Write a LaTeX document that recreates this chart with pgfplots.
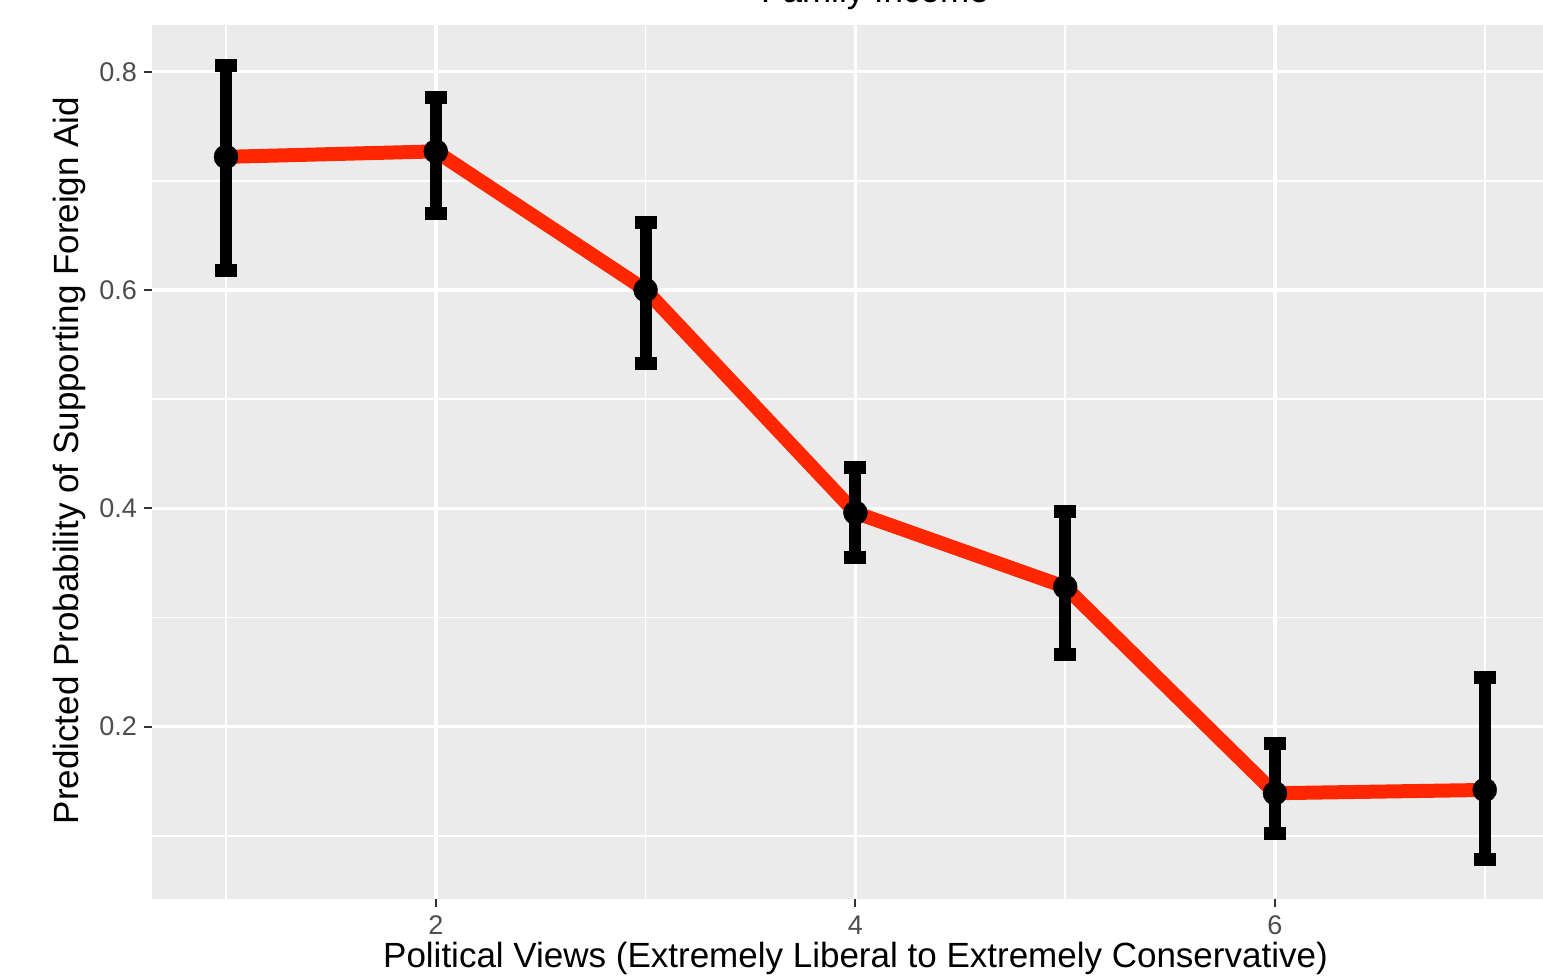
\documentclass[border=0pt]{standalone}
\usepackage{fontspec}
\setmainfont{Liberation Sans}
\usepackage{pgfplots}
\usepackage{pgfplotstable}
\pgfplotsset{compat=1.18}
\definecolor{panel}{HTML}{EBEBEB}
\definecolor{tickgrey}{HTML}{333333}
\definecolor{labgrey}{HTML}{4D4D4D}
\definecolor{linered}{RGB}{255,38,0}

\pgfplotstableread{
x y lo up
1 0.722 0.618 0.806
2 0.727 0.670 0.776
3 0.600 0.533 0.662
4 0.396 0.355 0.437
5 0.328 0.266 0.397
6 0.139 0.102 0.185
7 0.142 0.078 0.245
}\data

\begin{document}
\begin{tikzpicture}
\begin{axis}[
  at={(76pt,38.5pt)}, anchor=south west,
  scale only axis,
  width=695.5pt, height=437pt,
  xmin=0.6473, xmax=7.2775,
  ymin=0.0421, ymax=0.8428,
  axis background/.style={fill=panel},
  axis line style={draw=none},
  xtick={2,4,6}, xticklabels={2,4,6},
  ytick={0.2,0.4,0.6,0.8}, yticklabels={0.2,0.4,0.6,0.8},
  minor xtick={1,3,5,7},
  minor ytick={0.1,0.3,0.5,0.7},
  grid=both,
  major grid style={white, line width=1.75pt},
  minor grid style={white, line width=0.9pt},
  tick align=outside,
  xtick pos=bottom, ytick pos=left,
  major tick length=4pt, minor tick length=0pt,
  tick style={color=tickgrey, line width=1pt},
  /pgf/number format/assume math mode=true,
  ticklabel style={font=\fontsize{13.5}{15}\selectfont, text=labgrey},
  xticklabel style={yshift=-1pt},
  yticklabel style={xshift=0pt},
  clip=false,
]
\addplot[color=linered, line width=7pt, line join=round, mark=none]
  table[x=x, y=y] {\data};
\addplot[only marks, mark=*, mark size=6pt, mark options={fill=black, draw=black, line width=0.2pt},
  error bars/.cd, y dir=both, y explicit,
  error bar style={line width=6pt, black},
  error mark options={rotate=90, mark size=5.5pt, line width=6.5pt, black}]
  table[x=x, y=y, y error plus expr=\thisrow{up}-\thisrow{y}, y error minus expr=\thisrow{y}-\thisrow{lo}] {\data};
\end{axis}
\node[anchor=base, font=\fontsize{17.5}{20}\selectfont] at (437.5pt,486.75pt) {Family Income};
\node[anchor=base, font=\fontsize{17.5}{20}\selectfont] at (427.75pt,4.5pt) {Political Views (Extremely Liberal to Extremely Conservative)};
\node[anchor=base, rotate=90, font=\fontsize{17.5}{20}\selectfont] at (39pt,257.75pt) {Predicted Probability of Supporting Foreign Aid};
\pgfresetboundingbox
\path[use as bounding box] (0pt,0pt) rectangle (771.5pt,488pt);
\end{tikzpicture}
\end{document}
